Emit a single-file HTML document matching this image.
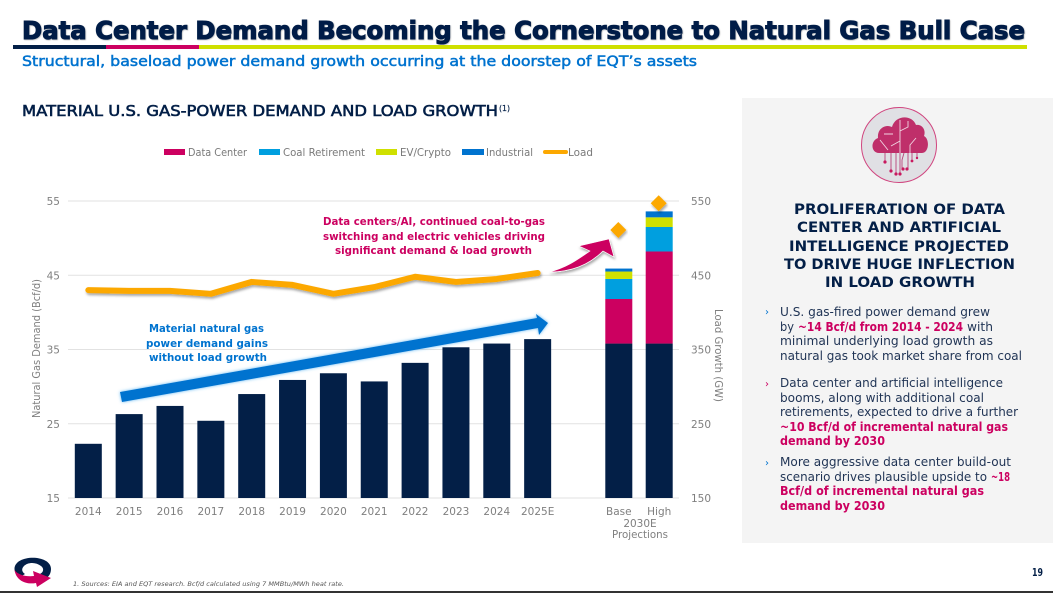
<!DOCTYPE html>
<html lang="en">
<head>
<meta charset="utf-8">
<title>Data Center Demand Becoming the Cornerstone to Natural Gas Bull Case</title>
<style>
html,body{margin:0;padding:0;background:#fff;width:1053px;height:593px;overflow:hidden}
svg{display:block;font-family:"DejaVu Sans","Liberation Sans",sans-serif}
.body-line{font-size:12px;fill:#1f3354}
.body-bold{font-size:12px;font-weight:bold;fill:#cc0060}
.head-line{font-size:14.5px;font-weight:bold;fill:#031f47;text-anchor:start}
.legend-text{font-size:10.5px;fill:#7a7a7a}
.note-pink{font-size:11px;font-weight:bold;fill:#cc0060}
.note-blue{font-size:11px;font-weight:bold;fill:#0073cf}
.tick{font-size:10.5px;fill:#7f7f7f}
</style>
</head>
<body>
<svg id="slide" xmlns="http://www.w3.org/2000/svg" width="1053" height="593" viewBox="0 0 1053 593">
<defs>
<filter id="shadow" x="-10%" y="-40%" width="120%" height="200%"><feDropShadow dx="1" dy="2" stdDeviation="1.2" flood-color="#000" flood-opacity="0.35"/></filter>
<filter id="glow" x="-10%" y="-40%" width="120%" height="200%"><feDropShadow dx="0" dy="0" stdDeviation="1.6" flood-color="#39a5f0" flood-opacity="0.8"/></filter>
<filter id="title-shadow" x="-2%" y="-20%" width="104%" height="150%"><feDropShadow dx="0.6" dy="0.6" stdDeviation="0.5" flood-color="#000" flood-opacity="0.3"/></filter>
</defs>

<text x="22" y="39" font-size="25" font-weight="bold" fill="#031f47" stroke="#031f47" stroke-width="1.1" textLength="1003" lengthAdjust="spacingAndGlyphs" filter="url(#title-shadow)">Data Center Demand Becoming the Cornerstone to Natural Gas Bull Case</text>
<rect x="13" y="45" width="93" height="4" fill="#031f47"/>
<rect x="106" y="45" width="93" height="4" fill="#cc0060"/>
<rect x="199" y="45" width="828" height="4" fill="#cfe000"/>
<text x="22" y="66" font-size="14" fill="#0073cf" stroke="#0073cf" stroke-width="0.5" textLength="675" lengthAdjust="spacingAndGlyphs">Structural, baseload power demand growth occurring at the doorstep of EQT’s assets</text>
<text x="22" y="116" font-size="15" fill="#031f47" stroke="#031f47" stroke-width="0.6" textLength="476" lengthAdjust="spacingAndGlyphs">MATERIAL U.S. GAS-POWER DEMAND AND LOAD GROWTH</text>
<text x="499" y="111" font-size="8" fill="#031f47" stroke="#031f47" stroke-width="0.2" textLength="11" lengthAdjust="spacingAndGlyphs">(1)</text>

<g>
<rect x="164" y="149" width="21" height="6" fill="#cc0060"/>
<text class="legend-text" x="188" y="156" textLength="59" lengthAdjust="spacingAndGlyphs">Data Center</text>
<rect x="259" y="149" width="21" height="6" fill="#009fdf"/>
<text class="legend-text" x="283" y="156" textLength="82" lengthAdjust="spacingAndGlyphs">Coal Retirement</text>
<rect x="376" y="149" width="21" height="6" fill="#cfe000"/>
<text class="legend-text" x="400" y="156" textLength="51" lengthAdjust="spacingAndGlyphs">EV/Crypto</text>
<rect x="462" y="149" width="22" height="6" fill="#0073cf"/>
<text class="legend-text" x="486" y="156" textLength="47" lengthAdjust="spacingAndGlyphs">Industrial</text>
<rect x="543" y="150" width="25" height="4" rx="2" fill="#fca800"/>
<text class="legend-text" x="568" y="156" textLength="25" lengthAdjust="spacingAndGlyphs">Load</text>
</g>

<g id="chart"></g>

<text class="tick" transform="translate(40,418) rotate(-90)" x="0" y="0" textLength="139" lengthAdjust="spacingAndGlyphs">Natural Gas Demand (Bcf/d)</text>
<text class="tick" transform="translate(715,309) rotate(90)" x="0" y="0" textLength="93" lengthAdjust="spacingAndGlyphs">Load Growth (GW)</text>
<text class="tick" x="640" y="527" text-anchor="middle">2030E</text>
<text class="tick" x="640" y="538" text-anchor="middle" textLength="56" lengthAdjust="spacingAndGlyphs">Projections</text>

<polygon points="120,392 537,318 536,314 548,323 539,335 538,328 122,402" fill="#0073cf" filter="url(#glow)"/>
<path d="M549,272 C566,268 577,260 590,251 L579,246 L609,239 L614,257 L603,251 C590,264 572,272 549,272 Z" fill="#cc0060" stroke="#fff" stroke-width="0.6" filter="url(#shadow)"/>

<text class="note-pink" x="323" y="225" textLength="222" lengthAdjust="spacingAndGlyphs">Data centers/AI, continued coal-to-gas</text>
<text class="note-pink" x="323" y="240" textLength="222" lengthAdjust="spacingAndGlyphs">switching and electric vehicles driving</text>
<text class="note-pink" x="335" y="254" textLength="197" lengthAdjust="spacingAndGlyphs">significant demand &amp; load growth</text>
<text class="note-blue" x="149" y="332" textLength="115" lengthAdjust="spacingAndGlyphs">Material natural gas</text>
<text class="note-blue" x="146" y="347" textLength="122" lengthAdjust="spacingAndGlyphs">power demand gains</text>
<text class="note-blue" x="149" y="361" textLength="118" lengthAdjust="spacingAndGlyphs">without load growth</text>

<rect x="742" y="98" width="311" height="445" fill="#f4f4f4"/>
<g>
<circle cx="899" cy="145" r="37.5" fill="#e0e0e4" stroke="#d0457f" stroke-width="1"/>
<path d="M879,153 C871,153 870,141 878,138 C877,128 886,124 892,127 C895,115 912,114 916,125 C923,124 926,131 924,136 C930,139 929,153 922,153 Z" fill="#bf2f6a"/>
<g fill="none" stroke="#f0d6e2" stroke-width="0.9"><path d="M900,120V153M900,131L908,127V121M884,134H893M880,140L888,150M891,146L900,141M910,153V145L916,138"/></g>
<g fill="none" stroke="#b8447a" stroke-width="0.9"><path d="M885,153V162M891,153V171M896,153V174M900,153V174M904,153L902,160V168M908,153V168M912,153V160M917,153V157"/></g>
<g fill="#c8195f"><circle cx="885" cy="162" r="1.6"/><circle cx="891" cy="171" r="1.6"/><circle cx="896" cy="174" r="1.6"/><circle cx="900" cy="174" r="1.6"/><circle cx="903" cy="169" r="1.6"/><circle cx="907" cy="169" r="1.6"/><circle cx="912" cy="161" r="1.4"/><circle cx="917" cy="158" r="1.2"/></g>
</g>

<g>
<text class="head-line" x="794" y="214" textLength="211" lengthAdjust="spacingAndGlyphs">PROLIFERATION OF DATA</text>
<text class="head-line" x="797" y="232" textLength="204" lengthAdjust="spacingAndGlyphs">CENTER AND ARTIFICIAL</text>
<text class="head-line" x="789" y="251" textLength="220" lengthAdjust="spacingAndGlyphs">INTELLIGENCE PROJECTED</text>
<text class="head-line" x="784" y="269" textLength="231" lengthAdjust="spacingAndGlyphs">TO DRIVE HUGE INFLECTION</text>
<text class="head-line" x="825" y="287" textLength="150" lengthAdjust="spacingAndGlyphs">IN LOAD GROWTH</text>
</g>

<g>
<text x="765" y="315" font-size="10" fill="#0073cf">›</text>
<text class="body-line" x="780" y="316" textLength="210" lengthAdjust="spacingAndGlyphs">U.S. gas-fired power demand grew</text>
<text class="body-line" x="780" y="331" textLength="14" lengthAdjust="spacingAndGlyphs">by</text>
<text class="body-bold" x="798" y="331" textLength="165" lengthAdjust="spacingAndGlyphs">~14 Bcf/d from 2014 - 2024</text>
<text class="body-line" x="967" y="331" textLength="26" lengthAdjust="spacingAndGlyphs">with</text>
<text class="body-line" x="780" y="345" textLength="213" lengthAdjust="spacingAndGlyphs">minimal underlying load growth as</text>
<text class="body-line" x="780" y="360" textLength="242" lengthAdjust="spacingAndGlyphs">natural gas took market share from coal</text>

<text x="765" y="387" font-size="10" fill="#cc0060">›</text>
<text class="body-line" x="780" y="387" textLength="223" lengthAdjust="spacingAndGlyphs">Data center and artificial intelligence</text>
<text class="body-line" x="780" y="402" textLength="204" lengthAdjust="spacingAndGlyphs">booms, along with additional coal</text>
<text class="body-line" x="780" y="416" textLength="238" lengthAdjust="spacingAndGlyphs">retirements, expected to drive a further</text>
<text class="body-bold" x="780" y="431" textLength="228" lengthAdjust="spacingAndGlyphs">~10 Bcf/d of incremental natural gas</text>
<text class="body-bold" x="780" y="445" textLength="105" lengthAdjust="spacingAndGlyphs">demand by 2030</text>

<text x="765" y="466" font-size="10" fill="#0073cf">›</text>
<text class="body-line" x="780" y="466" textLength="231" lengthAdjust="spacingAndGlyphs">More aggressive data center build-out</text>
<text class="body-line" x="780" y="481" textLength="207" lengthAdjust="spacingAndGlyphs">scenario drives plausible upside to</text>
<text class="body-bold" x="991" y="481" textLength="19" lengthAdjust="spacingAndGlyphs">~18</text>
<text class="body-bold" x="780" y="495" textLength="204" lengthAdjust="spacingAndGlyphs">Bcf/d of incremental natural gas</text>
<text class="body-bold" x="780" y="510" textLength="105" lengthAdjust="spacingAndGlyphs">demand by 2030</text>
</g>

<g>
<path fill-rule="evenodd" d="M14.5,569 C14.5,554 51,554 51,569 C51,575 47,579 42,580 L40,574 C44,572 44,568 41,566 C36,562 28,562 24,566 C21,569 22,572 25,574 L20,577 C17,575 14.5,572 14.5,569 Z" fill="#031f47"/>
<path d="M14.5,570 C18,575 26,577 34,576 L33,571 L51,578 L37,587 L36,583 C25,585 16,580 14.5,570 Z" fill="#cc0060"/>
</g>
<text x="73" y="586" font-size="6.5" font-style="italic" fill="#555" textLength="271" lengthAdjust="spacingAndGlyphs">1. Sources: EIA and EQT research. Bcf/d calculated using 7 MMBtu/MWh heat rate.</text>
<text x="1032" y="576" font-size="10.5" font-weight="bold" fill="#031f47" textLength="11" lengthAdjust="spacingAndGlyphs">19</text>
<rect x="0" y="591" width="1053" height="2" fill="#333"/>
</svg>

<script>
const years = ['2014','2015','2016','2017','2018','2019','2020','2021','2022','2023','2024','2025E'];
const gasDemand = [22.3,26.3,27.4,25.4,29.0,30.9,31.8,30.7,33.2,35.3,35.8,36.4];
const loadGrowth = [430,429,429,425,441,437,425,434,448,441,445,453];
const scenarios = ['Base','High'];
const scenarioGas = [35.8,35.8];
const scenarioDataCenter = [6.0,12.4];
const scenarioCoal = [2.7,3.3];
const scenarioEv = [1.0,1.3];
const scenarioIndustrial = [0.4,0.8];
const scenarioLoad = [511,547];
const leftTicks = [15,25,35,45,55];
const rightTicks = ['150','250','350','450','550'];

const SVG_NS = 'http://www.w3.org/2000/svg';
const chart = document.getElementById('chart');
function yLeft(v){ return 498 - (v - 15) * 297 / 40; }
function yRight(v){ return 498 - (v - 150) * 297 / 400; }
function xBand(i){ return 88.3 + i * 40.85; }
function xScenario(i){ return 618.8 + i * 40.4; }
function make(tag, attrs){
  const el = document.createElementNS(SVG_NS, tag);
  for (const k in attrs) el.setAttribute(k, attrs[k]);
  chart.appendChild(el);
  return el;
}
const BAR_W = 27;

leftTicks.forEach(function(t, i){
  const line = make('line', {x1:68, x2:679, y1:yLeft(t), y2:yLeft(t), stroke:'#e2e2e2', 'stroke-width':1});
  
  
  const left = make('text', {x:60, y:yLeft(t)+4, 'text-anchor':'end', 'class':'tick'});
  left.textContent = t;
  
  
  const right = make('text', {x:691, y:yLeft(t)+4, 'class':'tick'});
  right.textContent = rightTicks[i];
  
  
});

years.forEach(function(label, i){
  const bar = make('rect', {x:xBand(i)-BAR_W/2, y:yLeft(gasDemand[i]), width:BAR_W, height:yLeft(15)-yLeft(gasDemand[i]), fill:'#031f47'});
  
  
  const tick = make('text', {x:xBand(i), y:515, 'text-anchor':'middle', 'class':'tick'});
  tick.textContent = label;
  
  
});

const stackSeries = [
  {key:'natural-gas', values:scenarioGas, color:'#031f47'},
  {key:'data-center', values:scenarioDataCenter, color:'#cc0060'},
  {key:'coal-retirement', values:scenarioCoal, color:'#009fdf'},
  {key:'ev-crypto', values:scenarioEv, color:'#cfe000'},
  {key:'industrial', values:scenarioIndustrial, color:'#0073cf'}
];
scenarios.forEach(function(label, i){
  let base = 15;
  stackSeries.forEach(function(s, k){
    const top = k === 0 ? s.values[i] : base + s.values[i];
    const seg = make('rect', {x:xScenario(i)-BAR_W/2, y:yLeft(top), width:BAR_W, height:yLeft(base)-yLeft(top), fill:s.color});
    
    
    base = top;
  });
  const tick = make('text', {x:xScenario(i), y:515, 'text-anchor':'middle', 'class':'tick'});
  tick.textContent = label;
  
  
});

const loadPoints = loadGrowth.map(function(v, i){ return xBand(i) + ',' + yRight(v); }).join(' ');
const loadLine = make('polyline', {points:loadPoints, fill:'none', stroke:'#fca800', 'stroke-width':6, 'stroke-linecap':'round', 'stroke-linejoin':'round', filter:'url(#shadow)'});



scenarioLoad.forEach(function(v, i){
  const cx = xScenario(i) - 0.5;
  const cy = yRight(v);
  const pts = [[cx,cy-8],[cx+8,cy],[cx,cy+8],[cx-8,cy]].map(function(p){ return p.join(','); }).join(' ');
  const marker = make('polygon', {points:pts, fill:'#fca800', filter:'url(#shadow)'});
  
  
});
</script>
</body>
</html>
